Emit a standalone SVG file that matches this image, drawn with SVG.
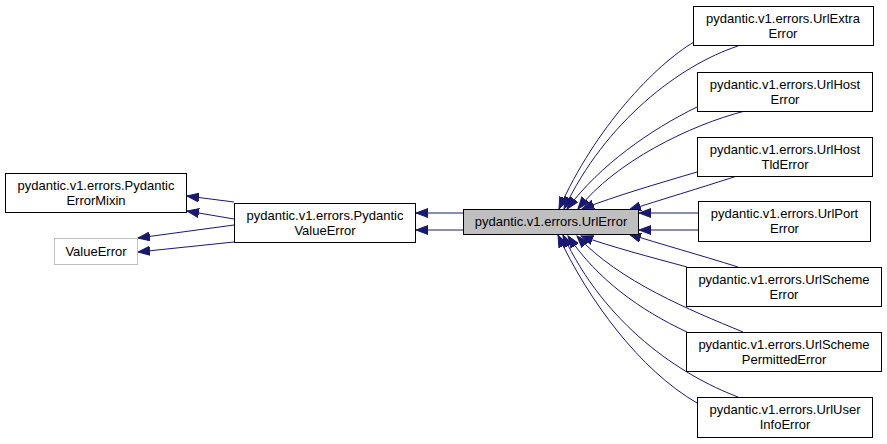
<svg xmlns="http://www.w3.org/2000/svg" width="887" height="444" viewBox="0 0 887 444">
<style>
.n rect{fill:#ffffff;stroke:#000000;stroke-width:1}
.n text{font-family:"Liberation Sans",Arial,sans-serif;font-size:13px;fill:#000000;text-anchor:middle}
#n_url rect{fill:#bfbfbf}
#n_valueerror rect{stroke:#bfbfbf}
.e path{fill:none;stroke:#191970;stroke-width:1;marker-end:url(#arr)}
</style>
<defs>
<marker id="arr" markerUnits="userSpaceOnUse" markerWidth="13" markerHeight="10" viewBox="0 0 13 10" refX="12" refY="5" orient="auto">
<path d="M0,0.5 L12,5 L0,9.5 z" fill="#191970" stroke="#191970" stroke-width="1"/>
</marker>
</defs>
<rect width="887" height="444" fill="#ffffff"/>
<g id="edges" class="e">
<!-- PydanticValueError -> PydanticErrorMixin -->
<path d="M234,202 L187,196"/>
<path d="M234,219 L187,211"/>
<!-- PydanticValueError -> ValueError -->
<path d="M234,225 L138,238"/>
<path d="M234,242 L138,252"/>
<!-- UrlError -> PydanticValueError -->
<path d="M463,213 L416,213"/>
<path d="M463,230 L416,230"/>
<!-- UrlExtraError -->
<path d="M694,42 C655,65 595,128 559,209"/>
<path d="M738,46 C680,65 605,122 564,209"/>
<!-- UrlHostError -->
<path d="M697,107 C650,130 600,165 567,209"/>
<path d="M745,111 C690,125 615,162 578,209"/>
<!-- UrlHostTldError -->
<path d="M697,172 C660,183 615,196 582,209"/>
<path d="M737,176 C700,188 660,200 629,210"/>
<!-- UrlPortError -->
<path d="M698,213 L639,213"/>
<path d="M698,230 L639,230"/>
<!-- UrlSchemeError -->
<path d="M738,267 C700,255 660,244 629,234"/>
<path d="M687,267 C650,257 612,247 581,236"/>
<!-- UrlSchemePermittedError -->
<path d="M743,332 C690,310 620,282 577,236"/>
<path d="M687,332 C640,310 598,280 568,236"/>
<!-- UrlUserInfoError -->
<path d="M738,397 C680,375 605,325 563,235"/>
<path d="M697,403 C640,370 588,300 558,235"/>
</g>
<g id="n_mixin" class="n">
<rect x="5.5" y="173.5" width="181" height="39"/>
<text x="96" y="190">pydantic.v1.errors.Pydantic</text>
<text x="96" y="205">ErrorMixin</text>
</g>
<g id="n_valueerror" class="n">
<rect x="54.5" y="238.5" width="83" height="26"/>
<text x="96" y="256">ValueError</text>
</g>
<g id="n_pve" class="n">
<rect x="234.5" y="203.5" width="181" height="39"/>
<text x="325" y="220">pydantic.v1.errors.Pydantic</text>
<text x="325" y="235">ValueError</text>
</g>
<g id="n_url" class="n">
<rect x="463.5" y="209.5" width="175" height="25"/>
<text x="551" y="226">pydantic.v1.errors.UrlError</text>
</g>
<g id="n_extra" class="n">
<rect x="693.5" y="6.5" width="180" height="39"/>
<text x="783" y="23">pydantic.v1.errors.UrlExtra</text>
<text x="783" y="38">Error</text>
</g>
<g id="n_host" class="n">
<rect x="697.5" y="72.5" width="175" height="39"/>
<text x="785" y="89">pydantic.v1.errors.UrlHost</text>
<text x="785" y="104">Error</text>
</g>
<g id="n_hosttld" class="n">
<rect x="697.5" y="137.5" width="175" height="39"/>
<text x="785" y="154">pydantic.v1.errors.UrlHost</text>
<text x="785" y="169">TldError</text>
</g>
<g id="n_port" class="n">
<rect x="698.5" y="201.5" width="172" height="40"/>
<text x="784.5" y="218">pydantic.v1.errors.UrlPort</text>
<text x="784.5" y="233">Error</text>
</g>
<g id="n_scheme" class="n">
<rect x="686.5" y="267.5" width="195" height="39"/>
<text x="784" y="284">pydantic.v1.errors.UrlScheme</text>
<text x="784" y="299">Error</text>
</g>
<g id="n_schemeperm" class="n">
<rect x="686.5" y="332.5" width="195" height="39"/>
<text x="784" y="349">pydantic.v1.errors.UrlScheme</text>
<text x="784" y="364">PermittedError</text>
</g>
<g id="n_userinfo" class="n">
<rect x="697.5" y="397.5" width="175" height="40"/>
<text x="785" y="414">pydantic.v1.errors.UrlUser</text>
<text x="785" y="429">InfoError</text>
</g>
</svg>
